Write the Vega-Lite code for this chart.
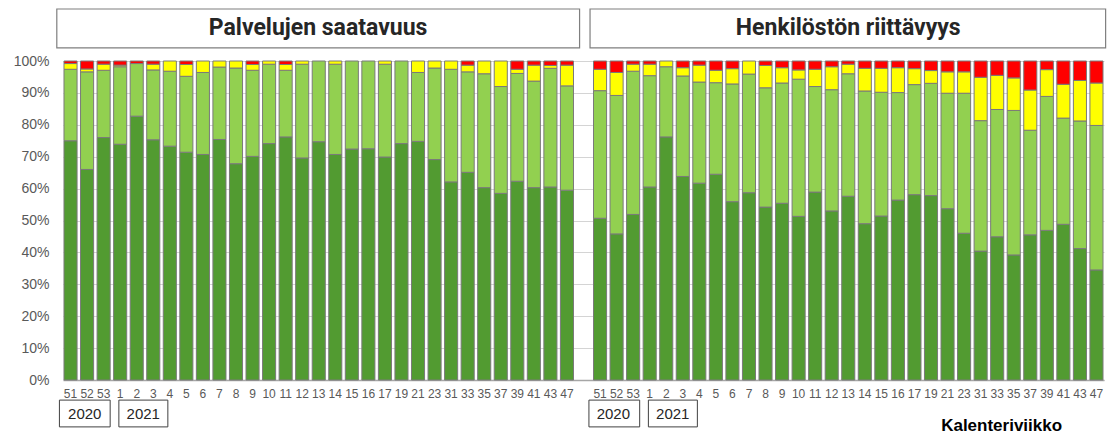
{
  "$schema": "https://vega.github.io/schema/vega-lite/v6.json",
  "width": 1041,
  "height": 319,
  "autosize": {"type": "none"},
  "padding": {"left": 63, "top": 61, "right": 7, "bottom": 56},
  "background": "white",
  "config": {"view": {"stroke": null}, "font": "Liberation Sans"},
  "resolve": {"axis": {"x": "independent", "y": "independent"}},
  "datasets": {
    "viikot": [
      {"k": "L|51", "taso1": 75.0, "taso2": 22.4, "taso3": 1.8, "taso4": 0.8},
      {"k": "L|52", "taso1": 66.0, "taso2": 30.6, "taso3": 0.9, "taso4": 2.5},
      {"k": "L|53", "taso1": 76.0, "taso2": 21.1, "taso3": 1.9, "taso4": 1.0},
      {"k": "L|1", "taso1": 73.9, "taso2": 24.3, "taso3": 0.5, "taso4": 1.3},
      {"k": "L|2", "taso1": 82.7, "taso2": 16.5, "taso3": 0, "taso4": 0.8},
      {"k": "L|3", "taso1": 75.3, "taso2": 21.9, "taso3": 1.8, "taso4": 1.0},
      {"k": "L|4", "taso1": 73.3, "taso2": 23.5, "taso3": 3.2, "taso4": 0},
      {"k": "L|5", "taso1": 71.4, "taso2": 23.8, "taso3": 3.7, "taso4": 1.1},
      {"k": "L|6", "taso1": 70.7, "taso2": 25.7, "taso3": 3.6, "taso4": 0},
      {"k": "L|7", "taso1": 75.4, "taso2": 22.7, "taso3": 1.9, "taso4": 0},
      {"k": "L|8", "taso1": 67.8, "taso2": 30.0, "taso3": 2.2, "taso4": 0},
      {"k": "L|9", "taso1": 70.1, "taso2": 27.0, "taso3": 1.8, "taso4": 1.1},
      {"k": "L|10", "taso1": 74.1, "taso2": 24.9, "taso3": 1.0, "taso4": 0},
      {"k": "L|11", "taso1": 76.2, "taso2": 20.9, "taso3": 1.8, "taso4": 1.1},
      {"k": "L|12", "taso1": 69.6, "taso2": 29.4, "taso3": 1.0, "taso4": 0},
      {"k": "L|13", "taso1": 74.7, "taso2": 25.3, "taso3": 0, "taso4": 0},
      {"k": "L|14", "taso1": 70.7, "taso2": 28.3, "taso3": 1.0, "taso4": 0},
      {"k": "L|15", "taso1": 72.4, "taso2": 27.6, "taso3": 0, "taso4": 0},
      {"k": "L|16", "taso1": 72.5, "taso2": 27.5, "taso3": 0, "taso4": 0},
      {"k": "L|17", "taso1": 69.9, "taso2": 29.1, "taso3": 1.0, "taso4": 0},
      {"k": "L|19", "taso1": 74.1, "taso2": 25.9, "taso3": 0, "taso4": 0},
      {"k": "L|21", "taso1": 74.8, "taso2": 21.6, "taso3": 3.6, "taso4": 0},
      {"k": "L|23", "taso1": 69.1, "taso2": 28.7, "taso3": 2.2, "taso4": 0},
      {"k": "L|31", "taso1": 62.1, "taso2": 35.3, "taso3": 2.6, "taso4": 0},
      {"k": "L|33", "taso1": 65.1, "taso2": 31.5, "taso3": 2.1, "taso4": 1.3},
      {"k": "L|35", "taso1": 60.3, "taso2": 35.7, "taso3": 4.0, "taso4": 0},
      {"k": "L|37", "taso1": 58.5, "taso2": 33.5, "taso3": 8.0, "taso4": 0},
      {"k": "L|39", "taso1": 62.3, "taso2": 33.8, "taso3": 1.3, "taso4": 2.6},
      {"k": "L|41", "taso1": 60.3, "taso2": 33.4, "taso3": 5.0, "taso4": 1.3},
      {"k": "L|43", "taso1": 60.5, "taso2": 37.2, "taso3": 0.9, "taso4": 1.4},
      {"k": "L|47", "taso1": 59.5, "taso2": 32.7, "taso3": 6.5, "taso4": 1.3},
      {"k": "R|51", "taso1": 50.7, "taso2": 40.0, "taso3": 6.7, "taso4": 2.6},
      {"k": "R|52", "taso1": 45.8, "taso2": 43.4, "taso3": 7.2, "taso4": 3.6},
      {"k": "R|53", "taso1": 51.9, "taso2": 44.9, "taso3": 2.2, "taso4": 1.0},
      {"k": "R|1", "taso1": 60.5, "taso2": 34.9, "taso3": 3.6, "taso4": 1.0},
      {"k": "R|2", "taso1": 76.2, "taso2": 22.0, "taso3": 1.8, "taso4": 0},
      {"k": "R|3", "taso1": 63.8, "taso2": 31.5, "taso3": 2.6, "taso4": 2.1},
      {"k": "R|4", "taso1": 61.7, "taso2": 31.7, "taso3": 5.3, "taso4": 1.3},
      {"k": "R|5", "taso1": 64.5, "taso2": 28.7, "taso3": 3.9, "taso4": 2.9},
      {"k": "R|6", "taso1": 55.9, "taso2": 36.9, "taso3": 4.8, "taso4": 2.4},
      {"k": "R|7", "taso1": 58.7, "taso2": 37.2, "taso3": 4.1, "taso4": 0},
      {"k": "R|8", "taso1": 54.2, "taso2": 37.4, "taso3": 7.0, "taso4": 1.4},
      {"k": "R|9", "taso1": 55.4, "taso2": 37.7, "taso3": 4.8, "taso4": 2.1},
      {"k": "R|10", "taso1": 51.3, "taso2": 43.0, "taso3": 2.9, "taso4": 2.8},
      {"k": "R|11", "taso1": 58.9, "taso2": 33.1, "taso3": 5.4, "taso4": 2.6},
      {"k": "R|12", "taso1": 53.0, "taso2": 38.0, "taso3": 7.2, "taso4": 1.8},
      {"k": "R|13", "taso1": 57.6, "taso2": 38.4, "taso3": 3.0, "taso4": 1.0},
      {"k": "R|14", "taso1": 49.0, "taso2": 41.6, "taso3": 7.1, "taso4": 2.3},
      {"k": "R|15", "taso1": 51.4, "taso2": 38.8, "taso3": 7.5, "taso4": 2.3},
      {"k": "R|16", "taso1": 56.4, "taso2": 33.7, "taso3": 7.8, "taso4": 2.1},
      {"k": "R|17", "taso1": 58.1, "taso2": 34.5, "taso3": 5.0, "taso4": 2.4},
      {"k": "R|19", "taso1": 57.8, "taso2": 35.2, "taso3": 4.0, "taso4": 3.0},
      {"k": "R|21", "taso1": 53.7, "taso2": 36.2, "taso3": 6.7, "taso4": 3.4},
      {"k": "R|23", "taso1": 46.0, "taso2": 43.9, "taso3": 6.7, "taso4": 3.4},
      {"k": "R|31", "taso1": 40.4, "taso2": 40.9, "taso3": 13.6, "taso4": 5.1},
      {"k": "R|33", "taso1": 44.9, "taso2": 39.9, "taso3": 10.7, "taso4": 4.5},
      {"k": "R|35", "taso1": 39.2, "taso2": 45.3, "taso3": 10.2, "taso4": 5.3},
      {"k": "R|37", "taso1": 45.5, "taso2": 32.8, "taso3": 12.6, "taso4": 9.1},
      {"k": "R|39", "taso1": 46.9, "taso2": 42.0, "taso3": 8.4, "taso4": 2.7},
      {"k": "R|41", "taso1": 48.8, "taso2": 33.3, "taso3": 10.6, "taso4": 7.3},
      {"k": "R|43", "taso1": 41.2, "taso2": 40.0, "taso3": 12.7, "taso4": 6.1},
      {"k": "R|47", "taso1": 34.5, "taso2": 45.3, "taso3": 13.3, "taso4": 6.9}
    ]
  },
  "layer": [
    {
      "data": {"name": "viikot"},
      "transform": [
        {"fold": ["taso1", "taso2", "taso3", "taso4"], "as": ["taso", "osuus"]},
        {"filter": "datum.osuus > 0"}
      ],
      "mark": {"type": "bar", "stroke": "#7a7a7a", "strokeWidth": 1},
      "encoding": {
        "x": {
          "field": "k",
          "type": "nominal",
          "title": null,
          "sort": null,
          "scale": {
            "domain": ["L|51","L|52","L|53","L|1","L|2","L|3","L|4","L|5","L|6","L|7","L|8","L|9","L|10","L|11","L|12","L|13","L|14","L|15","L|16","L|17","L|19","L|21","L|23","L|31","L|33","L|35","L|37","L|39","L|41","L|43","L|47","gap","R|51","R|52","R|53","R|1","R|2","R|3","R|4","R|5","R|6","R|7","R|8","R|9","R|10","R|11","R|12","R|13","R|14","R|15","R|16","R|17","R|19","R|21","R|23","R|31","R|33","R|35","R|37","R|39","R|41","R|43","R|47"],
            "paddingInner": 0.21,
            "paddingOuter": 0.06
          },
          "axis": {
            "labelExpr": "datum.value == 'gap' ? '' : split(datum.value, '|')[1]",
            "labelAngle": 0,
            "labelFontSize": 12,
            "labelColor": "#595959",
            "labelPadding": 8,
            "labelOverlap": false,
            "ticks": false,
            "domainColor": "#a6a6a6",
            "domainWidth": 1.5,
            "grid": false
          }
        },
        "y": {
          "field": "osuus",
          "type": "quantitative",
          "stack": "zero",
          "title": null,
          "scale": {"domain": [0, 100]},
          "axis": {
            "values": [0, 10, 20, 30, 40, 50, 60, 70, 80, 90, 100],
            "labelExpr": "datum.value + '%'",
            "labelFontSize": 14,
            "labelColor": "#595959",
            "labelPadding": 14,
            "labelOverlap": false,
            "labelFlush": false,
            "ticks": false,
            "domain": false,
            "gridColor": "#d4d4d4",
            "gridWidth": 1
          }
        },
        "color": {
          "field": "taso",
          "type": "nominal",
          "legend": null,
          "scale": {
            "domain": ["taso1", "taso2", "taso3", "taso4"],
            "range": ["#529B31", "#92D050", "#FFFF00", "#FF0000"]
          }
        },
        "order": {"field": "taso", "sort": "ascending"}
      }
    },
    {
      "data": {"values": [{}]},
      "mark": {"type": "rect", "fill": "white", "stroke": "#7f7f7f", "strokeWidth": 1.2},
      "encoding": {
        "x": {"datum": "L|51", "type": "nominal", "bandPosition": -0.55, "axis": null},
        "x2": {"datum": "gap", "bandPosition": 0.2},
        "y": {"datum": 116.3, "type": "quantitative", "axis": null},
        "y2": {"datum": 104.1}
      }
    },
    {
      "data": {"values": [{}]},
      "mark": {"type": "rect", "fill": "white", "stroke": "#7f7f7f", "strokeWidth": 1.2},
      "encoding": {
        "x": {"datum": "gap", "type": "nominal", "bandPosition": 1.0, "axis": null},
        "x2": {"datum": "R|47", "bandPosition": 1.2},
        "y": {"datum": 116.3, "type": "quantitative", "axis": null},
        "y2": {"datum": 104.1}
      }
    },
    {
      "data": {"values": [{}]},
      "mark": {"type": "text", "text": "Palvelujen saatavuus", "font": "Roboto", "fontWeight": "bold", "fontSize": 23, "color": "#262626", "baseline": "middle", "align": "center"},
      "encoding": {
        "x": {"datum": "L|13", "type": "nominal", "bandPosition": 0.45, "axis": null},
        "y": {"datum": 110.3, "type": "quantitative", "axis": null}
      }
    },
    {
      "data": {"values": [{}]},
      "mark": {"type": "text", "text": "Henkilöstön riittävyys", "font": "Roboto", "fontWeight": "bold", "fontSize": 23, "color": "#262626", "baseline": "middle", "align": "center"},
      "encoding": {
        "x": {"datum": "R|13", "type": "nominal", "bandPosition": 0.5, "axis": null},
        "y": {"datum": 110.3, "type": "quantitative", "axis": null}
      }
    },
    {
      "data": {"values": [{}]},
      "mark": {"type": "rect", "fill": "white", "stroke": "#404040", "strokeWidth": 1},
      "encoding": {
        "x": {"datum": "L|51", "type": "nominal", "bandPosition": -0.35, "axis": null},
        "x2": {"datum": "L|53", "bandPosition": 1.0},
        "y": {"datum": -6.3, "type": "quantitative", "axis": null},
        "y2": {"datum": -14.7}
      }
    },
    {
      "data": {"values": [{}]},
      "mark": {"type": "rect", "fill": "white", "stroke": "#404040", "strokeWidth": 1},
      "encoding": {
        "x": {"datum": "L|1", "type": "nominal", "bandPosition": 0.4, "axis": null},
        "x2": {"datum": "L|4", "bandPosition": 0.35},
        "y": {"datum": -6.3, "type": "quantitative", "axis": null},
        "y2": {"datum": -14.7}
      }
    },
    {
      "data": {"values": [{}]},
      "mark": {"type": "rect", "fill": "white", "stroke": "#404040", "strokeWidth": 1},
      "encoding": {
        "x": {"datum": "R|51", "type": "nominal", "bandPosition": -0.35, "axis": null},
        "x2": {"datum": "R|53", "bandPosition": 1.0},
        "y": {"datum": -6.3, "type": "quantitative", "axis": null},
        "y2": {"datum": -14.7}
      }
    },
    {
      "data": {"values": [{}]},
      "mark": {"type": "rect", "fill": "white", "stroke": "#404040", "strokeWidth": 1},
      "encoding": {
        "x": {"datum": "R|1", "type": "nominal", "bandPosition": 0.4, "axis": null},
        "x2": {"datum": "R|4", "bandPosition": 0.35},
        "y": {"datum": -6.3, "type": "quantitative", "axis": null},
        "y2": {"datum": -14.7}
      }
    },
    {
      "data": {"values": [{}]},
      "mark": {"type": "text", "text": "2020", "fontSize": 15, "color": "#262626", "baseline": "middle", "align": "center"},
      "encoding": {
        "x": {"datum": "L|52", "type": "nominal", "bandPosition": 0.32, "axis": null},
        "y": {"datum": -10.6, "type": "quantitative", "axis": null}
      }
    },
    {
      "data": {"values": [{}]},
      "mark": {"type": "text", "text": "2021", "fontSize": 15, "color": "#262626", "baseline": "middle", "align": "center"},
      "encoding": {
        "x": {"datum": "L|2", "type": "nominal", "bandPosition": 1.0, "axis": null},
        "y": {"datum": -10.6, "type": "quantitative", "axis": null}
      }
    },
    {
      "data": {"values": [{}]},
      "mark": {"type": "text", "text": "2020", "fontSize": 15, "color": "#262626", "baseline": "middle", "align": "center"},
      "encoding": {
        "x": {"datum": "R|52", "type": "nominal", "bandPosition": 0.25, "axis": null},
        "y": {"datum": -10.6, "type": "quantitative", "axis": null}
      }
    },
    {
      "data": {"values": [{}]},
      "mark": {"type": "text", "text": "2021", "fontSize": 15, "color": "#262626", "baseline": "middle", "align": "center"},
      "encoding": {
        "x": {"datum": "R|2", "type": "nominal", "bandPosition": 1.0, "axis": null},
        "y": {"datum": -10.6, "type": "quantitative", "axis": null}
      }
    },
    {
      "data": {"values": [{}]},
      "mark": {"type": "text", "text": "Kalenteriviikko", "fontSize": 17, "fontWeight": "bold", "color": "#000000", "baseline": "middle", "align": "center"},
      "encoding": {
        "x": {"datum": "R|33", "type": "nominal", "bandPosition": 0.84, "axis": null},
        "y": {"datum": -14.5, "type": "quantitative", "axis": null}
      }
    }
  ]
}
